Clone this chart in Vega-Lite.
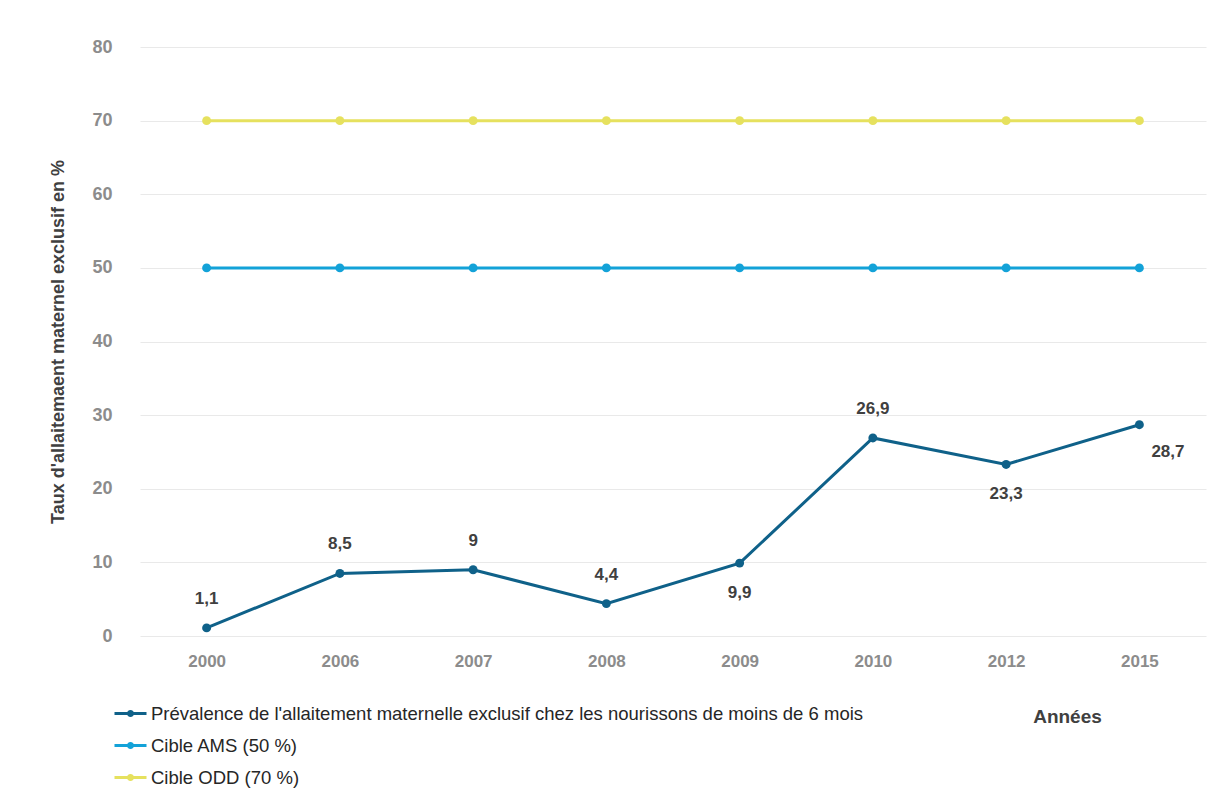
{
  "$schema": "https://vega.github.io/schema/vega-lite/v6.json",
  "width": 1066,
  "height": 589,
  "autosize": {"type": "none"},
  "padding": {"left": 140, "top": 47, "right": 11, "bottom": 158},
  "background": "white",
  "config": {
    "view": {"stroke": null},
    "font": "Liberation Sans"
  },
  "data": {
    "values": [
      {"year": "2000", "series": "Prévalence de l'allaitement maternelle exclusif chez les nourissons de moins de 6 mois", "value": 1.1, "label": "1,1", "pos": "above"},
      {"year": "2006", "series": "Prévalence de l'allaitement maternelle exclusif chez les nourissons de moins de 6 mois", "value": 8.5, "label": "8,5", "pos": "above"},
      {"year": "2007", "series": "Prévalence de l'allaitement maternelle exclusif chez les nourissons de moins de 6 mois", "value": 9, "label": "9", "pos": "above"},
      {"year": "2008", "series": "Prévalence de l'allaitement maternelle exclusif chez les nourissons de moins de 6 mois", "value": 4.4, "label": "4,4", "pos": "above"},
      {"year": "2009", "series": "Prévalence de l'allaitement maternelle exclusif chez les nourissons de moins de 6 mois", "value": 9.9, "label": "9,9", "pos": "below"},
      {"year": "2010", "series": "Prévalence de l'allaitement maternelle exclusif chez les nourissons de moins de 6 mois", "value": 26.9, "label": "26,9", "pos": "above"},
      {"year": "2012", "series": "Prévalence de l'allaitement maternelle exclusif chez les nourissons de moins de 6 mois", "value": 23.3, "label": "23,3", "pos": "below"},
      {"year": "2015", "series": "Prévalence de l'allaitement maternelle exclusif chez les nourissons de moins de 6 mois", "value": 28.7, "label": "28,7", "pos": "right"},
      {"year": "2000", "series": "Cible AMS (50 %)", "value": 50},
      {"year": "2006", "series": "Cible AMS (50 %)", "value": 50},
      {"year": "2007", "series": "Cible AMS (50 %)", "value": 50},
      {"year": "2008", "series": "Cible AMS (50 %)", "value": 50},
      {"year": "2009", "series": "Cible AMS (50 %)", "value": 50},
      {"year": "2010", "series": "Cible AMS (50 %)", "value": 50},
      {"year": "2012", "series": "Cible AMS (50 %)", "value": 50},
      {"year": "2015", "series": "Cible AMS (50 %)", "value": 50},
      {"year": "2000", "series": "Cible ODD (70 %)", "value": 70},
      {"year": "2006", "series": "Cible ODD (70 %)", "value": 70},
      {"year": "2007", "series": "Cible ODD (70 %)", "value": 70},
      {"year": "2008", "series": "Cible ODD (70 %)", "value": 70},
      {"year": "2009", "series": "Cible ODD (70 %)", "value": 70},
      {"year": "2010", "series": "Cible ODD (70 %)", "value": 70},
      {"year": "2012", "series": "Cible ODD (70 %)", "value": 70},
      {"year": "2015", "series": "Cible ODD (70 %)", "value": 70}
    ]
  },
  "encoding": {
    "x": {
      "field": "year", "type": "ordinal",
      "scale": {"type": "point", "padding": 0.5},
      "axis": {
        "title": "Années",
        "titleFont": "Liberation Sans", "titleFontSize": 19, "titleFontWeight": "bold", "titleColor": "#404040",
        "titleX": 927, "titleY": 80, "titleAlign": "center", "titleBaseline": "middle", "titleAnchor": null,
        "labelAngle": 0, "labelFont": "Liberation Sans", "labelFontSize": 17, "labelFontWeight": "bold", "labelColor": "#8c8c8c",
        "labelPadding": 17, "domain": false, "ticks": false, "grid": false
      }
    },
    "y": {
      "field": "value", "type": "quantitative",
      "scale": {"domain": [0, 80], "nice": false, "zero": true},
      "axis": {
        "title": "Taux d'allaitemaent maternel exclusif en %",
        "titleFont": "Liberation Sans", "titleFontSize": 18, "titleFontWeight": "bold", "titleColor": "#404040",
        "titleX": -82, "titleY": 294.5, "titleAngle": -90, "titleAlign": "center", "titleBaseline": "middle",
        "values": [0, 10, 20, 30, 40, 50, 60, 70, 80],
        "labelFont": "Liberation Sans", "labelFontSize": 18, "labelFontWeight": "bold", "labelColor": "#8c8c8c",
        "labelPadding": 28, "domain": false, "ticks": false,
        "grid": true, "gridColor": "#e9e9e9", "gridWidth": 1.2
      }
    }
  },
  "layer": [
    {
      "mark": {"type": "line", "strokeWidth": 3, "point": {"filled": true, "size": 80}},
      "encoding": {
        "color": {
          "field": "series", "type": "nominal",
          "scale": {
            "domain": ["Prévalence de l'allaitement maternelle exclusif chez les nourissons de moins de 6 mois", "Cible AMS (50 %)", "Cible ODD (70 %)"],
            "range": ["#0f6189", "#13a2d8", "#e6e15e"]
          },
          "legend": {
            "title": null,
            "orient": "none",
            "legendX": -27,
            "legendY": 649,
            "direction": "vertical",
            "symbolType": "M-1,0L1,0M0.13,0A0.13,0.13,0,1,1,-0.13,0A0.13,0.13,0,1,1,0.13,0",
            "symbolSize": 1024,
            "symbolStrokeWidth": 3,
            "symbolFillColor": "transparent",
            "labelFont": "Liberation Sans",
            "labelFontSize": 18.5,
            "labelColor": "#262626",
            "labelOffset": 3,
            "labelLimit": 1000,
            "rowPadding": 5
          }
        }
      }
    },
    {
      "transform": [{"filter": "datum.pos == 'above'"}],
      "mark": {"type": "text", "dy": -29, "baseline": "middle", "align": "center", "font": "Liberation Sans", "fontSize": 17, "fontWeight": "bold", "color": "#404040"},
      "encoding": {"text": {"field": "label"}}
    },
    {
      "transform": [{"filter": "datum.pos == 'below'"}],
      "mark": {"type": "text", "dy": 30, "baseline": "middle", "align": "center", "font": "Liberation Sans", "fontSize": 17, "fontWeight": "bold", "color": "#404040"},
      "encoding": {"text": {"field": "label"}}
    },
    {
      "transform": [{"filter": "datum.pos == 'right'"}],
      "mark": {"type": "text", "dx": 12, "dy": 27, "baseline": "middle", "align": "left", "font": "Liberation Sans", "fontSize": 17, "fontWeight": "bold", "color": "#404040"},
      "encoding": {"text": {"field": "label"}}
    }
  ]
}
